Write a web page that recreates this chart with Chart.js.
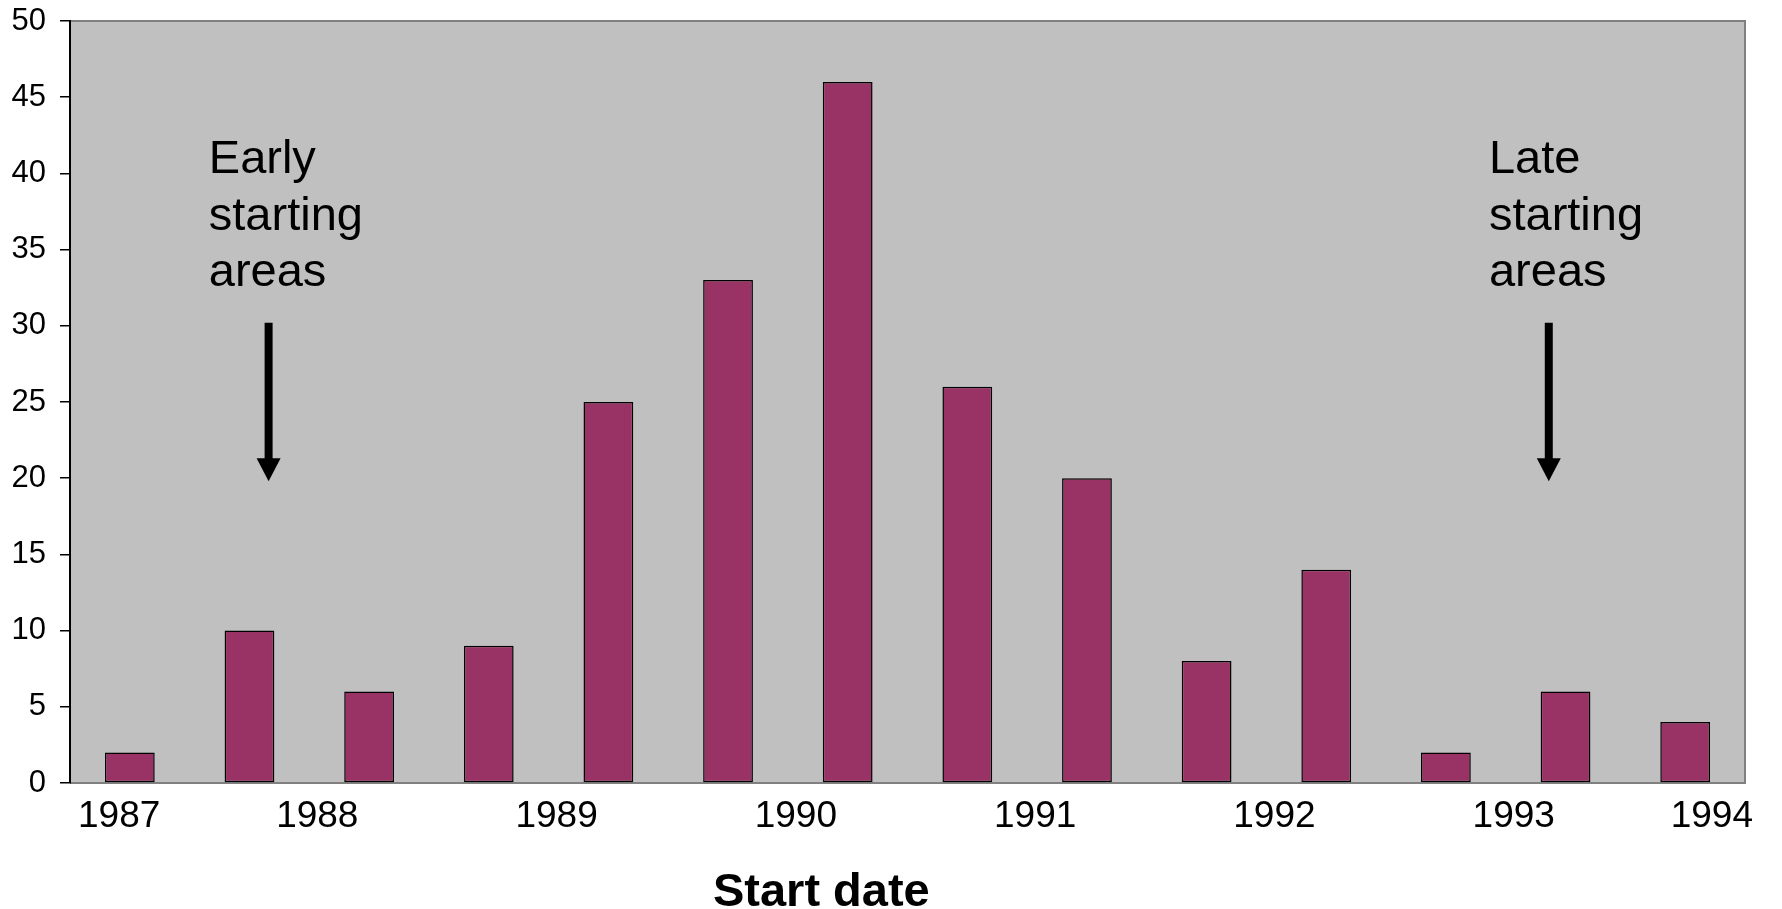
<!DOCTYPE html>
<html>
<head>
<meta charset="utf-8">
<script src="https://cdn.jsdelivr.net/npm/chart.js@4.4.1/dist/chart.umd.min.js"></script>
<style>
  html, body { margin: 0; padding: 0; background: #ffffff; }
  #wrap { width: 1782px; height: 909px; position: relative; }
</style>
</head>
<body>
<div id="wrap"><canvas id="chart" width="1782" height="909"></canvas></div>
<script>
// Half-year start periods and the number of areas starting in each
const periods = ['1987 H1', '1987 H2', '1988 H1', '1988 H2', '1989 H1', '1989 H2', '1990 H1',
                 '1990 H2', '1991 H1', '1991 H2', '1992 H1', '1992 H2', '1993 H1', '1993 H2'];
const areaCounts = [2, 10, 6, 9, 25, 33, 46, 26, 20, 8, 14, 2, 6, 4];
const yearTicks = [1987, 1988, 1989, 1990, 1991, 1992, 1993, 1994];
const countTicks = [0, 5, 10, 15, 20, 25, 30, 35, 40, 45, 50];
const axisTitle = 'Start date';
const earlyNote = ['Early', 'starting', 'areas'];
const lateNote = ['Late', 'starting', 'areas'];

// Callout placement in axis units (year axis / count axis)
const callouts = [
  { lines: earlyNote, textYear: 1987.58, arrowYear: 1987.83 },
  { lines: lateNote, textYear: 1992.93, arrowYear: 1993.18 }
];
const calloutLayout = { firstBaseline: 40.0, lineStep: 3.69, arrowFrom: 30.2, arrowTo: 19.8 };
const titleYear = 1990.14;

const SANS = "'Liberation Sans', Arial, Helvetica, sans-serif";

const decor = {
  id: 'decor',
  beforeDraw(chart) {
    const { ctx, chartArea: a } = chart;
    ctx.save();
    ctx.fillStyle = '#c0c0c0';
    ctx.fillRect(a.left, a.top, a.right - a.left, a.bottom - a.top);
    ctx.strokeStyle = '#808080';
    ctx.lineWidth = 2;
    ctx.beginPath();
    ctx.moveTo(a.left, a.top);
    ctx.lineTo(a.right, a.top);
    ctx.lineTo(a.right, a.bottom);
    ctx.lineTo(a.left, a.bottom);
    ctx.stroke();
    ctx.restore();
  },
  afterDatasetsDraw(chart) {
    const { ctx } = chart;
    const xs = chart.scales.year;
    const ys = chart.scales.y;
    ctx.save();
    ctx.fillStyle = '#000';
    ctx.strokeStyle = '#000';
    ctx.textAlign = 'left';
    ctx.textBaseline = 'alphabetic';
    ctx.font = '47px ' + SANS;
    callouts.forEach(c => {
      const tx = xs.getPixelForValue(c.textYear);
      c.lines.forEach((line, i) => {
        const ty = ys.getPixelForValue(calloutLayout.firstBaseline - i * calloutLayout.lineStep);
        ctx.fillText(line, tx, ty);
      });
      // downward arrow
      const ax = xs.getPixelForValue(c.arrowYear);
      const y0 = ys.getPixelForValue(calloutLayout.arrowFrom);
      const y1 = ys.getPixelForValue(calloutLayout.arrowTo);
      const headH = 23, headW = 24;
      ctx.lineWidth = 8;
      ctx.lineCap = 'butt';
      ctx.beginPath();
      ctx.moveTo(ax, y0);
      ctx.lineTo(ax, y1 - headH + 1);
      ctx.stroke();
      ctx.beginPath();
      ctx.moveTo(ax - headW / 2, y1 - headH);
      ctx.lineTo(ax + headW / 2, y1 - headH);
      ctx.lineTo(ax, y1);
      ctx.closePath();
      ctx.fill();
    });
    // axis title
    ctx.font = 'bold 47px ' + SANS;
    ctx.textAlign = 'center';
    ctx.fillText(axisTitle, xs.getPixelForValue(titleYear), chart.height - 3);
    ctx.restore();
  }
};

new Chart(document.getElementById('chart').getContext('2d'), {
  type: 'bar',
  data: {
    labels: periods,
    datasets: [{
      data: areaCounts,
      backgroundColor: '#993366',
      borderColor: '#000000',
      borderWidth: 1.5,
      borderSkipped: false,
      categoryPercentage: 1,
      barPercentage: 0.416,
      xAxisID: 'x',
      yAxisID: 'y'
    }]
  },
  options: {
    responsive: false,
    animation: false,
    devicePixelRatio: 1,
    layout: { padding: { left: 0, right: 37, top: 21, bottom: 0 } },
    plugins: { legend: { display: false }, tooltip: { enabled: false }, title: { display: false } },
    scales: {
      x: { type: 'category', display: false },
      year: {
        type: 'linear',
        axis: 'x',
        position: 'bottom',
        offset: false,
        min: yearTicks[0],
        max: yearTicks[yearTicks.length - 1],
        afterBuildTicks: s => { s.ticks = yearTicks.map(v => ({ value: v })); },
        afterFit: s => { s.height = 126; s.paddingLeft = 0; s.paddingRight = 0; },
        grid: { display: false, drawTicks: false, offset: false },
        border: { display: false },
        ticks: {
          align: 'inner',
          labelOffset: 8,
          padding: 12,
          maxRotation: 0,
          autoSkip: false,
          color: '#000',
          font: { family: SANS, size: 37 },
          callback: v => String(v)
        }
      },
      y: {
        min: countTicks[0],
        max: countTicks[countTicks.length - 1],
        afterBuildTicks: s => { s.ticks = countTicks.map(v => ({ value: v })); },
        afterFit: s => { s.width = 70; s.paddingTop = 0; s.paddingBottom = 0; },
        grid: { drawOnChartArea: false, drawTicks: true, tickLength: 10, color: '#000', lineWidth: 1.5 },
        border: { display: true, color: '#000', width: 2 },
        ticks: { padding: 14, color: '#000', font: { family: SANS, size: 31 } }
      }
    }
  },
  plugins: [decor]
});
</script>
</body>
</html>
